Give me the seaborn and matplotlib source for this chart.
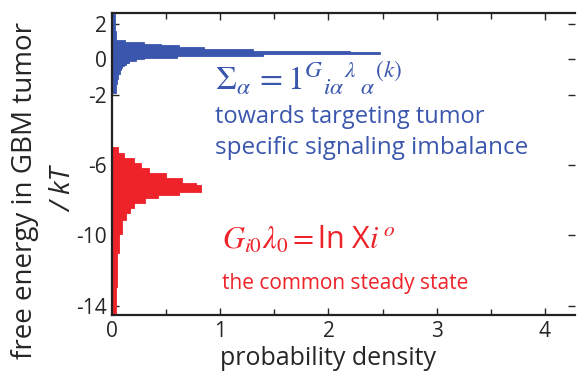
import numpy as np
import pandas as pd
import matplotlib
matplotlib.use('Agg')
import matplotlib.pyplot as plt
import seaborn as sns

sns.set_style('ticks')
plt.rcParams['font.family'] = ['Open Sans', 'DejaVu Sans']
# formulas em serifa (STIX), 'ln X' em sans
plt.rcParams['mathtext.fontset'] = 'custom'
plt.rcParams['mathtext.rm'] = 'STIXGeneral'
plt.rcParams['mathtext.it'] = 'STIXGeneral:italic'
plt.rcParams['mathtext.bf'] = 'STIXGeneral:bold'
plt.rcParams['mathtext.sf'] = 'Open Sans'

# histograma azul (estado especifico do tumor)
blue_edges = [-1.9, -1.4, -1.1, -0.8, -0.6, -0.5, -0.4, -0.3, -0.2, -0.1, 0.0,
              0.1, 0.2, 0.3, 0.4, 0.5, 0.6, 0.7, 0.8, 0.9, 1.0, 1.1, 1.3,
              1.6, 2.0, 2.6]
blue_dens = [0.04, 0.05, 0.055, 0.07, 0.08, 0.09, 0.11, 0.13, 0.16, 0.22,
             0.3, 0.6, 1.4, 2.48, 2.2, 1.3, 0.85, 0.62, 0.45, 0.3, 0.12,
             0.04, 0.035, 0.03, 0.03]

# histograma vermelho (estado estacionario comum)
red_edges = [-14.54, -12.95, -11.0, -9.9, -9.15, -8.75, -8.45, -8.15, -7.9,
             -7.7, -7.55, -7.15, -7.0, -6.75, -6.45, -6.2, -5.9, -5.6, -5.3,
             -4.98]
red_dens = [0.035, 0.045, 0.065, 0.09, 0.13, 0.17, 0.2, 0.31, 0.43, 0.62,
            0.82, 0.78, 0.65, 0.5, 0.34, 0.27, 0.2, 0.11, 0.06]

ytick_vals = [2, 0, -2, -6, -10, -14]
xtick_vals = [0, 1, 2, 3, 4]

blue = '#3a57ad'
red = '#ee2229'

def centers(edges):
    e = np.array(edges)
    return (e[:-1] + e[1:]) / 2

df_blue = pd.DataFrame({'energia': centers(blue_edges), 'dens': blue_dens})
df_red = pd.DataFrame({'energia': centers(red_edges), 'dens': red_dens})

fig = plt.figure(figsize=(5.77, 3.72), dpi=100)
ax = fig.add_axes([0.194, 0.153, 0.803, 0.812])

sns.histplot(data=df_blue, y='energia', weights='dens', bins=blue_edges,
             element='bars', fill=True, color=blue, alpha=1, linewidth=0.6,
             edgecolor=blue, ax=ax)
sns.histplot(data=df_red, y='energia', weights='dens', bins=red_edges,
             element='bars', fill=True, color=red, alpha=1, linewidth=0.6,
             edgecolor=red, ax=ax)

ax.set_xlim(0, 4.28)
ax.set_ylim(-14.54, 2.64)
ax.set_xticks(xtick_vals)
ax.set_xticks(np.arange(0.5, 4.3, 1.0), minor=True)
ax.set_yticks(ytick_vals)
ax.set_xticklabels([str(v) for v in xtick_vals])
ax.set_yticklabels([str(v) for v in ytick_vals])
ax.tick_params(direction='in', top=True, right=True, length=5, width=1,
               labelsize=15, pad=4)
ax.tick_params(which='minor', direction='in', top=True, length=4, width=1)
for s in ax.spines.values():
    s.set_linewidth(1.6)
    s.set_color('#222222')
ax.spines['right'].set_visible(False)
ax.set_xlabel('')
ax.set_ylabel('')

# rotulos dos eixos
fig.text(0.568, 0.002, 'probability density', fontsize=18, ha='center',
         va='bottom')
fig.text(0.043, 0.489, 'free energy in GBM tumor', fontsize=20, rotation=90,
         ha='center', va='center')
fig.text(0.112, 0.49, '/ kT', fontsize=20, rotation=90, style='italic',
         ha='center', va='center')

ax.text(0.95, -1.74,
        r'$\Sigma_{\alpha}\,=1^{G}{}_{i\alpha}{}^{\lambda}{}_{\,\alpha}{}^{(k)}$',
        color=blue, fontsize=24, va='baseline', ha='left')
ax.text(0.95, -3.28, 'towards targeting tumor', color=blue, fontsize=17,
        va='center', ha='left')
ax.text(0.95, -5.05, 'specific signaling imbalance', color=blue, fontsize=17.5,
        va='center', ha='left')
ax.text(1.02, -10.78, r'$G_{i0}\lambda_0 = \mathsf{ln\ X}i^{\,o}$',
        color=red, fontsize=22, va='baseline', ha='left')
ax.text(1.02, -12.77, 'the common steady state', color=red, fontsize=15,
        va='center', ha='left')

plt.savefig('out.png', dpi=100)
